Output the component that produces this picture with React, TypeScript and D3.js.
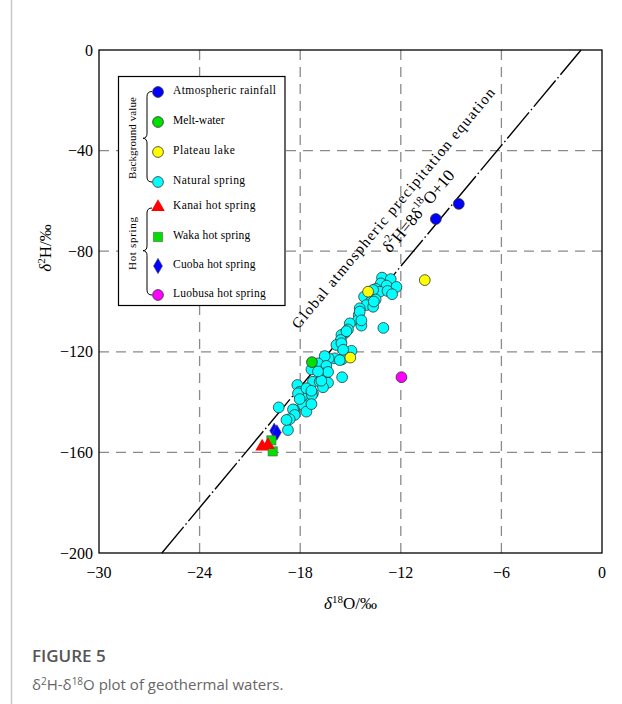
import React from "react";
import * as d3 from "d3";

// ---- data (δ18O ‰, δ2H ‰) ----
const naturalSpringO = [-13.12,-12.60,-13.19,-12.85,-12.26,-13.49,-13.25,-12.79,-12.52,-13.65,-14.19,-13.79,-14.05,-14.45,-13.65,-14.51,-14.55,-14.35,-13.04,-13.50,-13.61,-15.04,-15.15,-15.34,-15.54,-15.58,-15.84,-15.54,-14.94,-15.50,-15.94,-16.30,-16.73,-16.64,-16.54,-15.64,-16.94,-16.44,-17.33,-16.64,-16.54,-15.50,-17.24,-16.84,-16.34,-18.17,-18.03,-17.53,-17.24,-17.83,-17.43,-17.83,-18.37,-17.63,-16.64,-18.13,-17.30,-17.33,-19.28,-18.43,-18.33,-18.63,-18.73,-18.82,-14.45,-14.35,-15.24,-15.44,-16.34,-16.74,-17.63,-18.03,-17.33,-16.94];
const naturalSpringH = [-90.5,-91.1,-92.8,-93.7,-94.2,-95.0,-96.1,-95.8,-97.1,-95.4,-98.1,-100.1,-101.4,-102.7,-102.1,-105.4,-107.4,-109.6,-110.5,-99.2,-100.0,-108.7,-111.1,-112.6,-113.3,-115.3,-117.3,-116.6,-119.6,-123.0,-122.6,-122.6,-125.2,-127.2,-121.7,-123.3,-124.6,-125.6,-127.0,-128.6,-130.5,-130.1,-131.9,-131.9,-132.3,-133.2,-135.9,-135.2,-136.5,-137.9,-140.5,-141.2,-143.1,-143.8,-134.1,-136.5,-137.2,-140.8,-142.1,-142.9,-145.1,-146.8,-151.1,-147.1,-104.0,-107.5,-111.8,-119.2,-128.0,-131.5,-134.5,-138.8,-135.5,-127.8];

const rainfallO = [-9.91, -8.54];
const rainfallH = [-67.2, -61.2];
const meltO = [-17.30];
const meltH = [-124.1];
const lakeO = [-13.95, -15.01, -10.57];
const lakeH = [-96.1, -122.3, -91.5];
const luobusaO = [-11.96];
const luobusaH = [-130.1];
const kanaiO = [-20.27, -19.92];
const kanaiH = [-157.7, -157.1];
const wakaO = [-19.72, -19.64];
const wakaH = [-155.2, -159.6];
const cuobaO = [-19.55, -19.39];
const cuobaH = [-151.4, -152.1];

const xTicks = [-30, -24, -18, -12, -6, 0];
const yTicks = [0, -40, -80, -120, -160, -200];

const legendItems = [
  { label: "Atmospheric rainfall", shape: "circle", color: "#0000ff" },
  { label: "Melt-water", shape: "circle", color: "#00e000" },
  { label: "Plateau lake", shape: "circle", color: "#ffff00" },
  { label: "Natural spring", shape: "circle", color: "#00ffff" },
  { label: "Kanai hot spring", shape: "triangle", color: "#ff0000" },
  { label: "Waka hot spring", shape: "square", color: "#00e000" },
  { label: "Cuoba hot spring", shape: "diamond", color: "#0000ff" },
  { label: "Luobusa hot spring", shape: "circle", color: "#ff00ff" },
];

const W = 622, H = 704;
const x = d3.scaleLinear().domain([-30, 0]).range([99, 602]);
const y = d3.scaleLinear().domain([-200, 0]).range([553, 50]);

const serif = "'Liberation Serif', 'DejaVu Serif', serif";

function Marker({ shape, color, cx, cy }: any) {
  const stroke = "#333";
  if (shape === "circle") return <circle cx={cx} cy={cy} r={5.4} fill={color} stroke={stroke} strokeWidth={0.8} />;
  const t = shape === "triangle" ? d3.symbolTriangle : shape === "square" ? d3.symbolSquare : d3.symbolDiamond;
  const size = shape === "triangle" ? 80 : shape === "square" ? 85 : 70;
  const p = d3.symbol().type(t).size(size)();
  return <path d={p || ""} transform={`translate(${cx},${cy})`} fill={color} stroke={shape === "triangle" ? "none" : "#555"} strokeWidth={0.6} />;
}

function series(os: number[], hs: number[], shape: string, color: string, k: string) {
  return os.map((o, i) => <Marker key={k + i} shape={shape} color={color} cx={x(o)} cy={y(hs[i])} />);
}

export default function App() {
  const lineFn = (o: number) => 8 * o + 10;
  const o0 = (-200 - 10) / 8, o1 = (0 - 10) / 8;
  const sx = x(o0), sy = y(lineFn(o0));
  const dx = x(o1) - sx, dy = y(lineFn(o1)) - sy;
  const ang = (Math.atan2(dy, dx) * 180) / Math.PI;
  const len = Math.hypot(dx, dy);
  const ux = dx / len, uy = dy / len; // along line
  const nx = uy, ny = -ux; // perpendicular (up-left)
  const at = (along: number, off: number) => [sx + ux * along + nx * off, sy + uy * along + ny * off];
  const lab1 = at(413, 43);
  const lab2 = at(427, 22);

  const legX = 118.5, legY = 76.5, legW = 166.5, legH = 229;
  const itemY = [92, 122, 152, 182, 207, 237, 266, 295];

  return (
    <svg width={W} height={H} style={{ position: "absolute", left: 0, top: 0, background: "#fff" }}>
      <line x1={11.5} y1={0} x2={11.5} y2={H} stroke="#c8c8c8" strokeWidth={1.5} />
      {/* grid */}
      {xTicks.slice(1, -1).map((t) => (
        <line key={"gx" + t} x1={x(t)} x2={x(t)} y1={y(0)} y2={y(-200)} stroke="#8a8a8a" strokeWidth={1.3} strokeDasharray="10,7" />
      ))}
      {yTicks.slice(1, -1).map((t) => (
        <line key={"gy" + t} x1={x(-30)} x2={x(0)} y1={y(t)} y2={y(t)} stroke="#8a8a8a" strokeWidth={1.3} strokeDasharray="10,7" />
      ))}
      {/* GMWL */}
      <line x1={sx} y1={sy} x2={x(o1)} y2={y(lineFn(o1))} stroke="#000" strokeWidth={1.4} strokeDasharray="34,3,1.5,3" />
      <text x={lab1[0]} y={lab1[1]} transform={`rotate(${ang},${lab1[0]},${lab1[1]})`} textAnchor="middle" dominantBaseline="central" fontFamily={serif} fontSize={15} textLength={308} lengthAdjust="spacing">Global atmospheric precipitation equation</text>
      <text x={lab2[0]} y={lab2[1]} transform={`rotate(${ang},${lab2[0]},${lab2[1]})`} textAnchor="middle" dominantBaseline="central" fontFamily={serif} fontSize={17}>
        δ<tspan fontSize={11} dy={-6}>2</tspan><tspan dy={6}>H=8δ</tspan><tspan fontSize={11} dy={-6}>18</tspan><tspan dy={6}>O+10</tspan>
      </text>
      {/* points */}
      {series(naturalSpringO, naturalSpringH, "circle", "#00ffff", "ns")}
      {series(meltO, meltH, "circle", "#00e000", "mw")}
      {series(lakeO, lakeH, "circle", "#ffff00", "pl")}
      {series(rainfallO, rainfallH, "circle", "#0000ff", "ar")}
      {series(luobusaO, luobusaH, "circle", "#ff00ff", "lb")}
      {series(cuobaO, cuobaH, "diamond", "#0000ff", "cb")}
      {series(wakaO, wakaH, "square", "#00e000", "wk")}
      {series(kanaiO, kanaiH, "triangle", "#ff0000", "kn")}
      {/* frame */}
      <rect x={x(-30)} y={y(0)} width={x(0) - x(-30)} height={y(-200) - y(0)} fill="none" stroke="#000" strokeWidth={1.3} />
      {/* ticks labels */}
      {xTicks.map((t) => (
        <text key={"xt" + t} x={x(t)} y={578} textAnchor="middle" fontFamily={serif} fontSize={16}>{t < 0 ? "−" + Math.abs(t) : t}</text>
      ))}
      {yTicks.map((t) => (
        <text key={"yt" + t} x={93} y={y(t)} textAnchor="end" dominantBaseline="central" fontFamily={serif} fontSize={16}>{t < 0 ? "−" + Math.abs(t) : t}</text>
      ))}
      {/* axis titles */}
      <text x={(x(-30) + x(0)) / 2} y={609} textAnchor="middle" fontFamily={serif} fontSize={17}>
        <tspan fontStyle="italic">δ</tspan><tspan fontSize={11} dy={-6}>18</tspan><tspan dy={6}>O/‰</tspan>
      </text>
      <text x={0} y={0} transform="translate(51,248) rotate(-90)" textAnchor="middle" fontFamily={serif} fontSize={17}>
        <tspan fontStyle="italic">δ</tspan><tspan fontSize={11} dy={-6}>2</tspan><tspan dy={6}>H/‰</tspan>
      </text>
      {/* legend */}
      <rect x={legX} y={legY} width={legW} height={legH} fill="#fff" stroke="#000" strokeWidth={1.2} />
      <text transform="translate(132,138) rotate(-90)" textAnchor="middle" dominantBaseline="central" fontFamily={serif} fontSize={11} textLength={82} lengthAdjust="spacing">Background value</text>
      <text transform="translate(132,243.5) rotate(-90)" textAnchor="middle" dominantBaseline="central" fontFamily={serif} fontSize={11} textLength={53} lengthAdjust="spacing">Hot spring</text>
      <path d="M152,91.5 Q147,91.5 147,96.5 L147,133.5 Q147,138 143,138.3 Q147,138.6 147,143 L147,177 Q147,182 152,182" fill="none" stroke="#000" strokeWidth={1} />
      <path d="M152,208 Q147,208 147,213 L147,246 Q147,250.5 143,250.7 Q147,251 147,255.5 L147,290 Q147,295 152,295" fill="none" stroke="#000" strokeWidth={1} />
      {legendItems.map((it, i) => (
        <g key={"lg" + i}>
          <Marker shape={it.shape} color={it.color} cx={158} cy={itemY[i]} />
          <text x={173} y={itemY[i] - 2} dominantBaseline="central" fontFamily={serif} fontSize={11.5} textLength={it.label.length * 5.15} lengthAdjust="spacing">{it.label}</text>
        </g>
      ))}
      {/* caption */}
      <text x={32} y={662} fontFamily="'Open Sans', 'Noto Sans', sans-serif" fontSize={17} fontWeight={600} fill="#555">FIGURE 5</text>
      <text x={32} y={690} fontFamily="'Open Sans', 'Noto Sans', sans-serif" fontSize={15} fill="#666">
        δ<tspan fontSize={10} dy={-5}>2</tspan><tspan dy={5}>H-δ</tspan><tspan fontSize={10} dy={-5}>18</tspan><tspan dy={5}>O plot of geothermal waters.</tspan>
      </text>
    </svg>
  );
}
